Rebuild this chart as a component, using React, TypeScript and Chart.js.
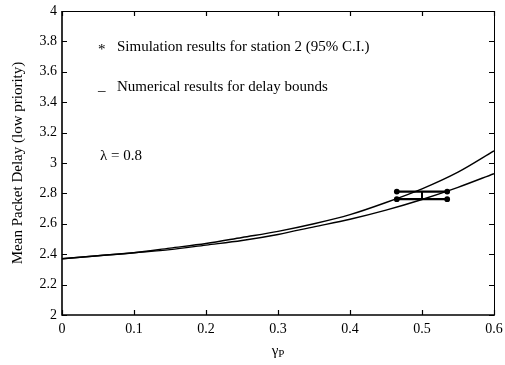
import React, { useEffect, useRef } from "react";
import { Chart, registerables } from "chart.js";

Chart.register(...registerables);

const gammaP = [0, 0.05, 0.1, 0.15, 0.2, 0.25, 0.3, 0.35, 0.4, 0.45, 0.5, 0.55, 0.6];
const upperBound = [2.37, 2.39, 2.41, 2.44, 2.47, 2.51, 2.55, 2.6, 2.66, 2.74, 2.83, 2.94, 3.08];
const lowerBound = [2.37, 2.39, 2.41, 2.43, 2.46, 2.49, 2.53, 2.58, 2.63, 2.69, 2.76, 2.84, 2.93];

const simX = 0.5;
const simCILow = 2.762;
const simCIHigh = 2.812;
const simCapLeft = 0.465;
const simCapRight = 0.535;

const yTicks = [2, 2.2, 2.4, 2.6, 2.8, 3, 3.2, 3.4, 3.6, 3.8, 4];
const xTicks = [0, 0.1, 0.2, 0.3, 0.4, 0.5, 0.6];

const legendSim = "Simulation results for station 2 (95% C.I.)";
const legendNum = "Numerical results for delay bounds";
const lambdaText = "\u03bb = 0.8";
const yTitle = "Mean Packet Delay (low priority)";

const FONT = "'Liberation Serif', 'Times New Roman', serif";

const overlayPlugin = {
  id: "overlay",
  afterDraw(chart: any) {
    const ctx = chart.ctx;
    const { left, right, top, bottom } = chart.chartArea;
    const xs = chart.scales.x;
    const ys = chart.scales.y;
    ctx.save();
    ctx.strokeStyle = "#000";
    // box
    ctx.lineWidth = 1;
    ctx.beginPath();
    ctx.moveTo(left, top + 0.5);
    ctx.lineTo(right + 0.5, top + 0.5);
    ctx.lineTo(right + 0.5, bottom);
    ctx.stroke();
    ctx.lineWidth = 1.6;
    ctx.beginPath();
    ctx.moveTo(left, top);
    ctx.lineTo(left, bottom);
    ctx.lineTo(right + 1, bottom);
    ctx.stroke();
    // inward ticks
    ctx.lineWidth = 1.2;
    const tl = 5;
    ctx.beginPath();
    for (const v of yTicks) {
      const p = Math.round(ys.getPixelForValue(v)) + 0.5;
      ctx.moveTo(left, p);
      ctx.lineTo(left + tl, p);
      ctx.moveTo(right, p);
      ctx.lineTo(right - tl, p);
    }
    for (const v of xTicks) {
      const p = Math.round(xs.getPixelForValue(v)) + 0.5;
      ctx.moveTo(p, bottom);
      ctx.lineTo(p, bottom - tl);
      ctx.moveTo(p, top);
      ctx.lineTo(p, top + tl);
    }
    ctx.stroke();

    // annotations
    ctx.fillStyle = "#000";
    ctx.textBaseline = "middle";
    ctx.textAlign = "left";
    ctx.font = `15px ${FONT}`;
    ctx.fillText("*", 98, 50);
    ctx.fillText(legendSim, 117, 47);
    ctx.fillText("_", 98, 86);
    ctx.fillText(legendNum, 117, 87);
    ctx.fillText(lambdaText, 100, 156);

    // x title gamma_P
    ctx.textAlign = "left";
    ctx.textBaseline = "alphabetic";
    ctx.font = `15px ${FONT}`;
    const cx = (left + right) / 2;
    const gw = ctx.measureText("\u03b3").width;
    ctx.font = `11px ${FONT}`;
    const pw = ctx.measureText("P").width;
    const start = cx - (gw + pw) / 2;
    ctx.font = `15px ${FONT}`;
    ctx.fillText("\u03b3", start, 355);
    ctx.font = `11px ${FONT}`;
    ctx.fillText("P", start + gw, 357);

    // y title
    ctx.translate(18, (top + bottom) / 2);
    ctx.rotate(-Math.PI / 2);
    ctx.textAlign = "center";
    ctx.textBaseline = "middle";
    ctx.font = `15px ${FONT}`;
    ctx.fillText(yTitle, 0, 0);
    ctx.restore();
  },
};

export default function App() {
  const ref = useRef<HTMLCanvasElement | null>(null);
  useEffect(() => {
    document.body.style.margin = "0";
    const canvas = ref.current;
    if (!canvas) return;
    const lineStyle = {
      borderColor: "#000",
      backgroundColor: "#000",
      showLine: true,
      fill: false,
    };
    const chart = new Chart(canvas, {
      type: "scatter",
      data: {
        datasets: [
          {
            ...lineStyle,
            label: "upper",
            data: gammaP.map((x, i) => ({ x, y: upperBound[i] })),
            borderWidth: 1.4,
            pointRadius: 0,
            tension: 0.4,
            cubicInterpolationMode: "monotone",
          },
          {
            ...lineStyle,
            label: "lower",
            data: gammaP.map((x, i) => ({ x, y: lowerBound[i] })),
            borderWidth: 1.4,
            pointRadius: 0,
            tension: 0.4,
            cubicInterpolationMode: "monotone",
          },
          {
            ...lineStyle,
            label: "capHigh",
            data: [
              { x: simCapLeft, y: simCIHigh },
              { x: simCapRight, y: simCIHigh },
            ],
            borderWidth: 2.2,
            pointRadius: 1.8,
          },
          {
            ...lineStyle,
            label: "capLow",
            data: [
              { x: simCapLeft, y: simCILow },
              { x: simCapRight, y: simCILow },
            ],
            borderWidth: 2.2,
            pointRadius: 1.8,
          },
          {
            ...lineStyle,
            label: "ci",
            data: [
              { x: simX, y: simCILow },
              { x: simX, y: simCIHigh },
            ],
            borderWidth: 2,
            pointRadius: 0,
          },
        ] as any,
      },
      options: {
        animation: false,
        responsive: false,
        events: [],
        layout: { padding: { left: 0, top: 11, right: 11, bottom: 0 } },
        plugins: { legend: { display: false }, tooltip: { enabled: false } },
        scales: {
          x: {
            type: "linear",
            min: 0,
            max: 0.6,
            afterFit: (s: any) => {
              s.height = 50;
              s.paddingLeft = 0;
              s.paddingRight = 0;
            },
            afterBuildTicks: (s: any) => {
              s.ticks = xTicks.map((v) => ({ value: v }));
            },
            grid: { display: false, drawTicks: false },
            border: { display: false },
            ticks: {
              padding: 6,
              color: "#000",
              font: { family: FONT, size: 14 },
              maxRotation: 0,
              callback: (v: any) => String(v),
            },
          },
          y: {
            type: "linear",
            min: 2,
            max: 4,
            afterFit: (s: any) => {
              s.width = 62;
              s.paddingTop = 0;
              s.paddingBottom = 0;
            },
            afterBuildTicks: (s: any) => {
              s.ticks = yTicks.map((v) => ({ value: v }));
            },
            grid: { display: false, drawTicks: false },
            border: { display: false },
            ticks: {
              padding: 5,
              color: "#000",
              font: { family: FONT, size: 14 },
              callback: (v: any) => String(Math.round(v * 10) / 10),
            },
          },
        },
      } as any,
      plugins: [overlayPlugin],
    });
    return () => chart.destroy();
  }, []);
  return <canvas ref={ref} width={505} height={365} style={{ display: "block" }} />;
}
